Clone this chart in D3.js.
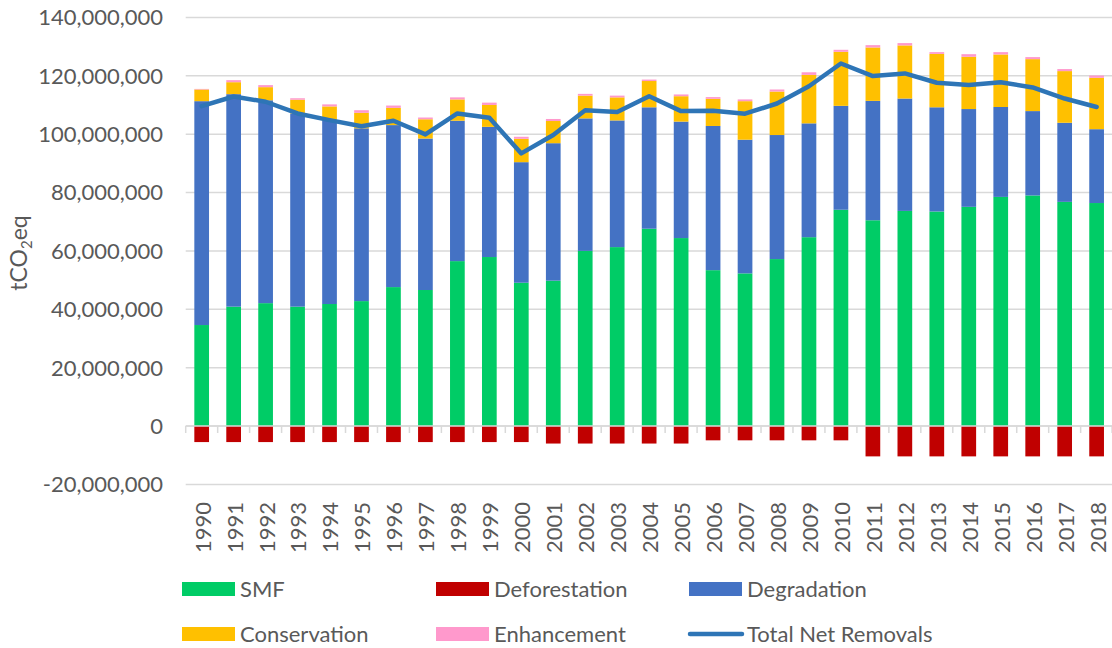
<!DOCTYPE html>
<html>
<head>
<meta charset="utf-8">
<script src="https://cdn.jsdelivr.net/npm/d3@7"></script>
<style>
  html, body { margin: 0; padding: 0; background: #ffffff; }
  svg { display: block; font-family: "Lato", "Open Sans", sans-serif; }
</style>
</head>
<body>
<svg id="chart" width="1112" height="648"></svg>
<script>
// Forest carbon accounting, 1990-2018 (tCO2eq, millions)
const years = ["1990","1991","1992","1993","1994","1995","1996","1997","1998","1999",
  "2000","2001","2002","2003","2004","2005","2006","2007","2008","2009",
  "2010","2011","2012","2013","2014","2015","2016","2017","2018"];

const smf = [34.6, 40.9, 42.1, 40.9, 41.8, 42.8, 47.6, 46.6, 56.5, 57.9,
  49.1, 49.8, 60.0, 61.3, 67.6, 64.4, 53.4, 52.3, 57.2, 64.7,
  74.1, 70.5, 73.7, 73.5, 75.1, 78.5, 79.0, 76.8, 76.4];

const degradation = [76.7, 72.8, 69.5, 66.2, 62.8, 59.2, 55.5, 51.9, 48.1, 44.6,
  41.3, 47.1, 45.4, 43.4, 41.6, 39.9, 49.4, 45.8, 42.5, 39.0,
  35.6, 40.9, 38.5, 35.7, 33.5, 30.8, 28.9, 27.1, 25.3];

const conservation = [4.0, 4.1, 4.5, 4.7, 4.9, 5.3, 5.9, 6.6, 7.3, 7.5,
  8.0, 7.6, 7.8, 7.9, 9.0, 8.7, 9.3, 13.2, 14.9, 16.6,
  18.5, 18.3, 18.2, 18.3, 17.9, 18.0, 17.8, 17.7, 17.6];

const enhancement = [0.2, 0.7, 0.7, 0.5, 0.7, 0.9, 0.8, 0.6, 0.7, 0.8,
  0.7, 0.7, 0.6, 0.6, 0.5, 0.6, 0.6, 0.6, 0.7, 0.9,
  0.7, 0.8, 0.8, 0.6, 0.9, 0.8, 0.7, 0.7, 0.8];

const deforestation = [-5.5, -5.5, -5.5, -5.5, -5.5, -5.5, -5.5, -5.5, -5.5, -5.5,
  -5.5, -6.0, -6.0, -6.0, -6.0, -6.0, -4.9, -4.9, -4.9, -4.9,
  -4.9, -10.4, -10.4, -10.4, -10.4, -10.4, -10.4, -10.4, -10.4];

const totalNet = [109.6, 112.9, 111.1, 107.1, 104.8, 102.7, 104.6, 99.9, 107.1, 105.6,
  93.4, 99.7, 108.2, 107.6, 113.0, 107.9, 108.0, 107.0, 110.5, 116.4,
  124.2, 119.9, 120.8, 117.6, 116.8, 117.8, 116.0, 112.2, 109.3];

const yTicks = [-20, 0, 20, 40, 60, 80, 100, 120, 140];

const seriesNames = ["SMF", "Degradation", "Conservation", "Enhancement"];
const colors = {
  "SMF": "#00CC66",
  "Deforestation": "#C00000",
  "Degradation": "#4472C4",
  "Conservation": "#FFC000",
  "Enhancement": "#FF99CC",
  "Total Net Removals": "#2E75B6"
};

const M = 1e6;
const svg = d3.select("#chart");
const plot = { left: 185.7, right: 1112.6, top: 17.4, bottom: 484.4 };
const textColor = "#595959";
const gridColor = "#D9D9D9";
const fontSize = 22;

const x = d3.scaleBand()
  .domain(years)
  .range([plot.left, plot.right])
  .paddingInner(0.54)
  .paddingOuter(0.27);

const y = d3.scaleLinear()
  .domain([-20 * M, 140 * M])
  .range([plot.bottom, plot.top]);

// horizontal gridlines
svg.append("g")
  .selectAll("line")
  .data(yTicks)
  .join("line")
  .attr("x1", plot.left).attr("x2", plot.right)
  .attr("y1", d => y(d * M)).attr("y2", d => y(d * M))
  .attr("stroke", gridColor).attr("stroke-width", 1.5);

// y axis labels (plain hyphen for negatives)
const fmt = d3.formatLocale({ decimal: ".", thousands: ",", grouping: [3], currency: ["", ""], minus: "-" }).format(",");
svg.append("g")
  .selectAll("text")
  .data(yTicks)
  .join("text")
  .attr("x", 163)
  .attr("y", d => y(d * M))
  .attr("dy", "0.36em")
  .attr("text-anchor", "end")
  .attr("fill", textColor)
  .attr("font-size", fontSize)
  .text(d => fmt(d * M));

// y axis title
svg.append("text")
  .attr("transform", "translate(27,253) rotate(-90)")
  .attr("text-anchor", "middle")
  .attr("fill", textColor)
  .attr("font-size", 23)
  .call(t => {
    t.append("tspan").text("tCO");
    t.append("tspan").attr("font-size", 15).attr("dy", 5).text("2");
    t.append("tspan").attr("dy", -5).text("eq");
  });

// stacked positive components
const rows = years.map((yr, i) => ({
  year: yr,
  SMF: smf[i] * M,
  Degradation: degradation[i] * M,
  Conservation: conservation[i] * M,
  Enhancement: enhancement[i] * M
}));
const stacked = d3.stack().keys(seriesNames)(rows);

svg.append("g")
  .selectAll("g")
  .data(stacked)
  .join("g")
  .attr("fill", s => colors[s.key])
  .selectAll("rect")
  .data(s => s)
  .join("rect")
  .attr("x", d => x(d.data.year))
  .attr("width", x.bandwidth())
  .attr("y", d => y(d[1]))
  .attr("height", d => y(d[0]) - y(d[1]));

// deforestation (negative)
svg.append("g")
  .attr("fill", colors["Deforestation"])
  .selectAll("rect")
  .data(years)
  .join("rect")
  .attr("x", d => x(d))
  .attr("width", x.bandwidth())
  .attr("y", y(0))
  .attr("height", (d, i) => y(deforestation[i] * M) - y(0));

// category axis at zero with tick marks between categories
const axisG = svg.append("g");
axisG.append("line")
  .attr("x1", plot.left).attr("x2", plot.right)
  .attr("y1", y(0)).attr("y2", y(0))
  .attr("stroke", gridColor).attr("stroke-width", 1.5);
const boundaries = years.map(d => x(d) - x.step() * x.paddingInner() / 2);
boundaries.push(plot.right - 0.5);
axisG.selectAll("line.tick")
  .data(boundaries)
  .join("line")
  .attr("class", "tick")
  .attr("x1", d => d).attr("x2", d => d)
  .attr("y1", y(0)).attr("y2", y(0) + 7)
  .attr("stroke", gridColor).attr("stroke-width", 1.5);

// year labels, rotated
svg.append("g")
  .selectAll("text")
  .data(years)
  .join("text")
  .attr("transform", d => `translate(${x(d) + x.bandwidth() / 2 + 1},502) rotate(-90)`)
  .attr("text-anchor", "end")
  .attr("dy", "0.36em")
  .attr("fill", textColor)
  .attr("font-size", fontSize)
  .text(d => d);

// total net removals line
const line = d3.line()
  .x((d, i) => x(years[i]) + x.bandwidth() / 2)
  .y(d => y(d * M));
svg.append("path")
  .datum(totalNet)
  .attr("fill", "none")
  .attr("stroke", colors["Total Net Removals"])
  .attr("stroke-width", 4.5)
  .attr("stroke-linejoin", "round")
  .attr("stroke-linecap", "round")
  .attr("d", line);

// legend
const legendItems = [
  { name: "SMF", type: "rect", col: 0, row: 0 },
  { name: "Deforestation", type: "rect", col: 1, row: 0 },
  { name: "Degradation", type: "rect", col: 2, row: 0 },
  { name: "Conservation", type: "rect", col: 0, row: 1 },
  { name: "Enhancement", type: "rect", col: 1, row: 1 },
  { name: "Total Net Removals", type: "line", col: 2, row: 1 }
];
const colX = [182, 436, 689];
const rowY = [589, 634];
const lg = svg.append("g")
  .selectAll("g")
  .data(legendItems)
  .join("g")
  .attr("transform", d => `translate(${colX[d.col]},${rowY[d.row]})`);
lg.filter(d => d.type === "rect")
  .append("rect")
  .attr("x", 0).attr("y", -7)
  .attr("width", 53).attr("height", 14)
  .attr("fill", d => colors[d.name]);
lg.filter(d => d.type === "line")
  .append("line")
  .attr("x1", 1).attr("x2", 53)
  .attr("y1", 0).attr("y2", 0)
  .attr("stroke", d => colors[d.name])
  .attr("stroke-width", 4.5)
  .attr("stroke-linecap", "round");
lg.append("text")
  .attr("x", 58)
  .attr("y", 0)
  .attr("dy", "0.36em")
  .attr("fill", textColor)
  .attr("font-size", fontSize)
  .text(d => d.name);
</script>
</body>
</html>
